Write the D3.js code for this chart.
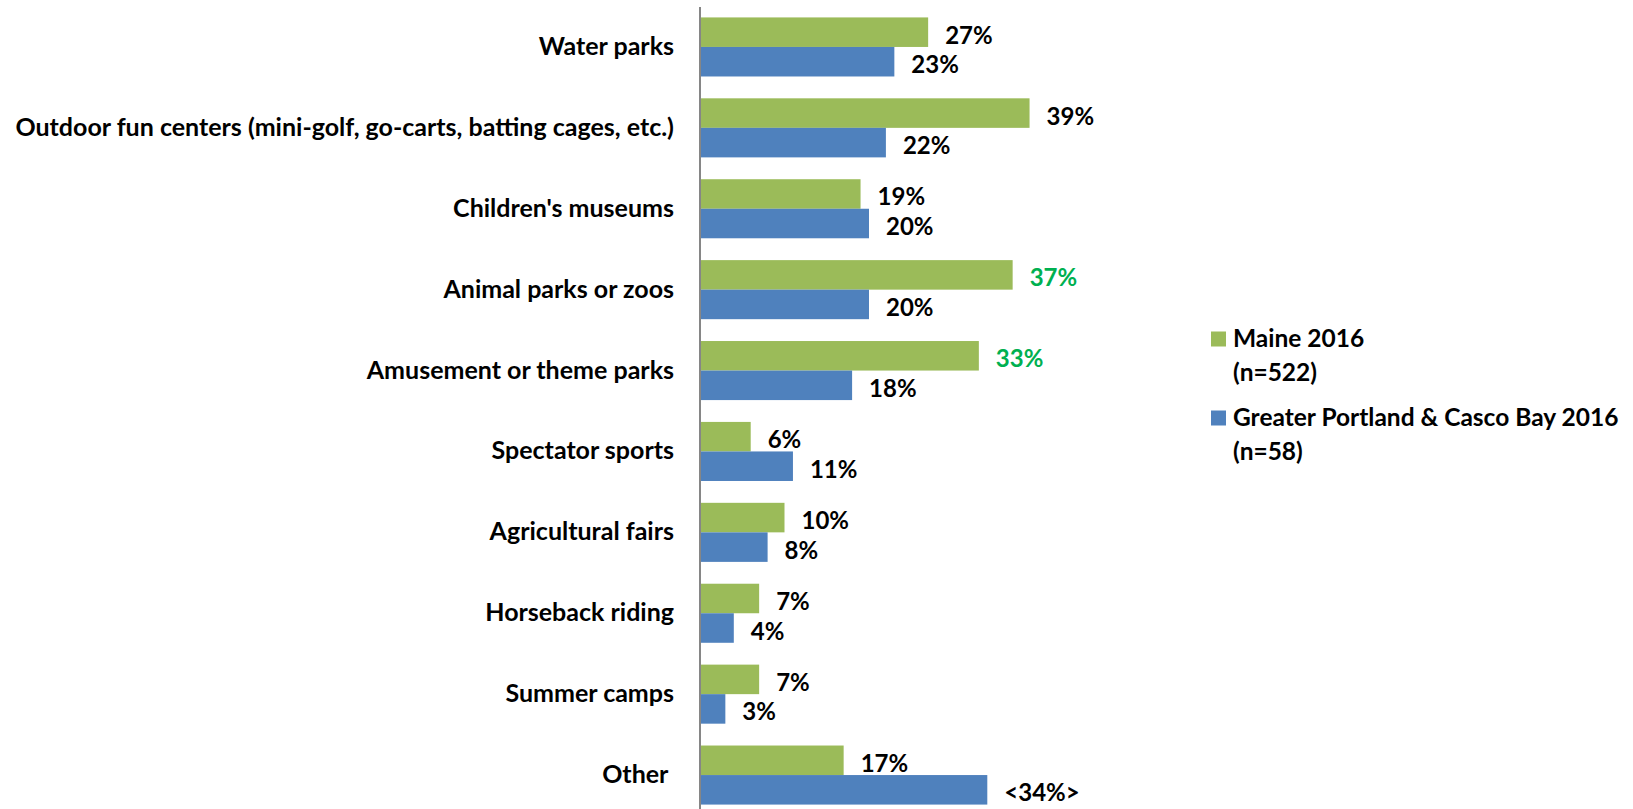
<!DOCTYPE html>
<html>
<head>
<meta charset="utf-8">
<script src="https://cdn.jsdelivr.net/npm/d3@7"></script>
<style>
  html, body { margin: 0; padding: 0; background: #fff; }
  svg text { font-family: Lato, "Open Sans", sans-serif; font-weight: 700; white-space: pre; }
</style>
</head>
<body>
<svg id="chart" width="1633" height="809"></svg>
<script>
// Family attractions visited, Maine vs. Greater Portland & Casco Bay (2016)
const categories = [
  "Water parks",
  "Outdoor fun centers (mini-golf, go-carts, batting cages, etc.)",
  "Children's museums",
  "Animal parks or zoos",
  "Amusement or theme parks",
  "Spectator sports",
  "Agricultural fairs",
  "Horseback riding",
  "Summer camps",
  "Other "
];
const maineValues    = [27, 39, 19, 37, 33, 6, 10, 7, 7, 17];
const portlandValues = [23, 22, 20, 20, 18, 11, 8, 4, 3, 34];
const maineLabels    = ["27%", "39%", "19%", "37%", "33%", "6%", "10%", "7%", "7%", "17%"];
const portlandLabels = ["23%", "22%", "20%", "20%", "18%", "11%", "8%", "4%", "3%", "<34%>"];
// Maine values shown highlighted
const maineHighlight = [false, false, false, true, true, false, false, false, false, false];
const seriesNames = ["Maine 2016", "Greater Portland & Casco Bay 2016"];
const seriesNotes = ["(n=522)", "(n=58)"];

const GREEN = "#9BBB59", BLUE = "#4F81BD", HILITE = "#00B050";
const CAT_FONT = 25, VAL_FONT = 24, LEG_FONT = 24.5;

const svg = d3.select("#chart");
const axisX = 700;

const x = d3.scaleLinear().domain([0, 100]).range([axisX, axisX + 845]);
const y = d3.scaleBand().domain(categories).range([6.5, 6.5 + 809]).paddingInner(0.27).paddingOuter(0.135);
const sub = d3.scaleBand().domain([0, 1]).range([0, y.bandwidth()]);

const rows = categories.map((c, i) => ({
  c,
  vals: [
    { s: 0, v: maineValues[i], label: maineLabels[i], hl: maineHighlight[i] },
    { s: 1, v: portlandValues[i], label: portlandLabels[i], hl: false }
  ]
}));

const g = svg.append("g");
const row = g.selectAll("g.row").data(rows).join("g")
  .attr("class", "row")
  .attr("transform", d => `translate(0,${y(d.c)})`);

row.selectAll("rect").data(d => d.vals).join("rect")
  .attr("x", x(0))
  .attr("y", d => sub(d.s))
  .attr("width", d => x(d.v) - x(0))
  .attr("height", sub.bandwidth())
  .attr("fill", d => d.s === 0 ? GREEN : BLUE);

row.selectAll("text.val").data(d => d.vals).join("text")
  .attr("class", "val")
  .attr("x", d => x(d.v) + 17)
  .attr("y", d => sub(d.s) + sub.bandwidth() / 2 + 2)
  .attr("dominant-baseline", "central")
  .attr("font-size", VAL_FONT)
  .attr("fill", d => d.hl ? HILITE : "#000")
  .text(d => d.label);

// category axis
const yAxis = d3.axisLeft(y).tickSize(0).tickPadding(26);
const ax = svg.append("g").attr("transform", `translate(${axisX},0)`).call(yAxis);
ax.select(".domain").attr("stroke", "#868686").attr("stroke-width", 2).attr("d", "M0,7V809");
ax.selectAll(".tick text")
  .attr("font-size", CAT_FONT)
  .attr("font-family", "Lato, 'Open Sans', sans-serif")
  .attr("font-weight", 700)
  .attr("fill", "#000")
  .attr("dy", "0.32em");

// legend
const legend = svg.append("g").attr("transform", "translate(1211,0)");
const legendY = [331.5, 410.5];
[GREEN, BLUE].forEach((col, i) => {
  const lg = legend.append("g").attr("transform", `translate(0,${legendY[i]})`);
  lg.append("rect").attr("width", 15).attr("height", 15).attr("fill", col);
  lg.append("text").attr("x", 22).attr("y", 15).attr("font-size", LEG_FONT).text(seriesNames[i]);
  lg.append("text").attr("x", 22).attr("y", 49).attr("font-size", LEG_FONT).text(seriesNotes[i]);
});
</script>
</body>
</html>
